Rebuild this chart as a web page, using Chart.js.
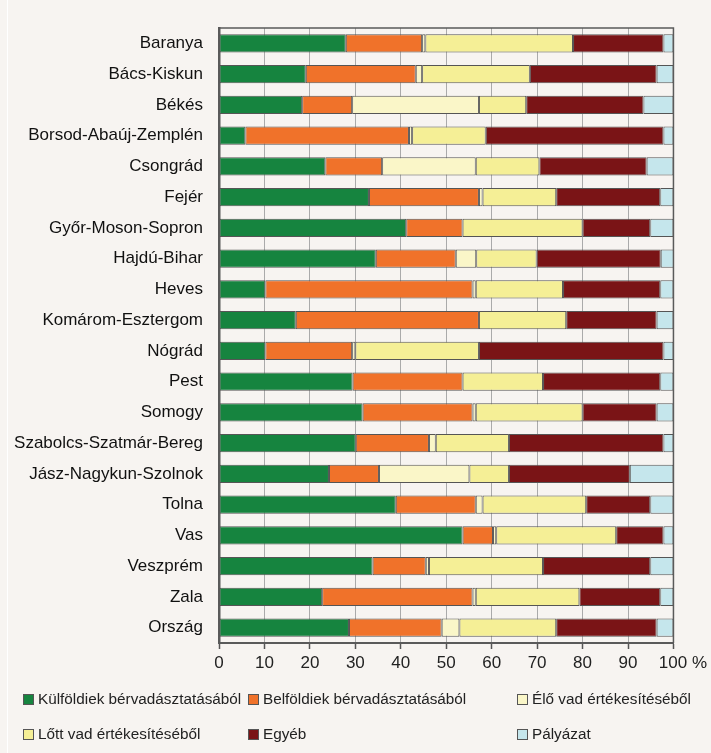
<!DOCTYPE html>
<html>
<head>
<meta charset="utf-8">
<script src="https://cdn.jsdelivr.net/npm/chart.js@4/dist/chart.umd.min.js"></script>
<style>
	html, body { margin: 0; padding: 0; background: #f7f4f1; }
	#wrap { position: relative; width: 711px; height: 753px; overflow: hidden; }
	#wrap:before { content: ""; position: absolute; left: 7px; top: 0; bottom: 0; border-left: 1px solid #fff; }
	#legend { position: absolute; left: 23px; top: 681px; display: grid; grid-template-columns: 225px 269px auto; grid-auto-rows: 35px; align-items: center;
		font-family: "Liberation Sans", Arial, sans-serif; font-size: 15.3px; color: #222; white-space: nowrap; }
	#legend span.box { display: inline-block; width: 9px; height: 9px; border: 1px solid #555; margin-right: 4px; vertical-align: -1px; }
</style>
</head>
<body>
<div id="wrap">
	<canvas id="chart" width="711" height="753"></canvas>
	<div id="legend"></div>
</div>
<script>
// data
var categories = ["Baranya", "Bács-Kiskun", "Békés", "Borsod-Abaúj-Zemplén", "Csongrád", "Fejér", "Győr-Moson-Sopron",
	"Hajdú-Bihar", "Heves", "Komárom-Esztergom", "Nógrád", "Pest", "Somogy", "Szabolcs-Szatmár-Bereg",
	"Jász-Nagykun-Szolnok", "Tolna", "Vas", "Veszprém", "Zala", "Ország"];
var seriesNames = ["Külföldiek bérvadásztatásából", "Belföldiek bérvadásztatásából", "Élő vad értékesítéséből",
	"Lőtt vad értékesítéséből", "Egyéb", "Pályázat"];
var kulfoldi = [27.9, 19.1, 18.3, 5.8, 23.4, 33.0, 41.2, 34.5, 10.2, 16.9, 10.2, 29.4, 31.6, 30.1, 24.2, 38.9, 53.6, 33.8, 22.7, 28.6];
var belfoldi = [16.8, 24.2, 11.0, 36.0, 12.5, 24.2, 12.4, 17.6, 45.6, 40.3, 19.1, 24.2, 24.2, 16.1, 11.0, 17.6, 6.7, 11.7, 33.1, 20.4];
var eloVad = [0.7, 1.4, 27.9, 0.7, 20.6, 0.8, 0, 4.5, 0.7, 0, 0.7, 0, 0.7, 1.5, 19.9, 1.5, 0.7, 0.7, 0.7, 3.9];
var lottVad = [32.5, 23.7, 10.4, 16.2, 14.0, 16.2, 26.4, 13.3, 19.2, 19.2, 27.2, 17.7, 23.5, 16.1, 8.7, 22.8, 26.4, 25.1, 22.8, 21.3];
var egyeb = [19.9, 27.9, 25.8, 39.1, 23.6, 22.9, 14.9, 27.3, 21.4, 19.9, 40.6, 25.8, 16.3, 34.0, 26.6, 14.1, 10.4, 23.6, 17.8, 22.1];
var palyazat = [2.2, 3.7, 6.6, 2.2, 5.9, 2.9, 5.1, 2.9, 2.9, 3.7, 2.2, 2.9, 3.7, 2.2, 9.6, 5.1, 2.2, 5.1, 2.9, 3.7];
var colors = ["#16843f", "#f0722a", "#faf6c8", "#f5ef96", "#7a1416", "#c5e6ec"];

var values = [kulfoldi, belfoldi, eloVad, lottVad, egyeb, palyazat];
var datasets = [];
for (var i = 0; i < values.length; i++) {
	datasets.push({
		label: seriesNames[i],
		data: values[i],
		backgroundColor: colors[i],
		borderColor: "#555",
		borderWidth: 1,
		borderSkipped: false,
		barPercentage: 0.6,
		categoryPercentage: 1
	});
}

var font = "'Liberation Sans', Arial, sans-serif";

// frame round the plot
var frame = {
	id: "frame",
	afterDatasetsDraw: function(chart) {
		var a = chart.chartArea, c = chart.ctx;
		c.save();
		c.strokeStyle = "#5a5a5a";
		c.lineWidth = 1.5;
		c.beginPath();
		c.moveTo(a.left, a.top);
		c.lineTo(a.right, a.top);
		c.lineTo(a.right, a.bottom);
		c.stroke();
		c.restore();
	}
};

var chart = new Chart(document.getElementById("chart"), {
	type: "bar",
	data: { labels: categories, datasets: datasets },
	plugins: [frame],
	options: {
		indexAxis: "y",
		responsive: false,
		animation: false,
		layout: { padding: { left: 0, top: 28, right: 36, bottom: 74 } },
		plugins: { legend: { display: false }, tooltip: { enabled: false } },
		scales: {
			x: {
				stacked: true,
				min: 0,
				max: 100,
				afterFit: function(s) { s.height = 36; },
				ticks: {
					stepSize: 10,
					padding: 4,
					maxRotation: 0,
					autoSkip: false,
					color: "#222",
					font: { family: font, size: 17 },
					callback: function(v) { return v === 100 ? "    100 %" : v; }
				},
				grid: { color: "#aaa", lineWidth: 1, tickColor: "#555", tickLength: 6, tickWidth: 1.5 },
				border: { color: "#5a5a5a", width: 2 }
			},
			y: {
				stacked: true,
				afterFit: function(s) { s.width = 219; },
				ticks: { padding: 16, color: "#111", font: { family: font, size: 17 } },
				grid: { color: "rgba(0,0,0,0)", drawTicks: false },
				border: { color: "#5a5a5a", width: 2.5 }
			}
		}
	}
});

// legend
var html = "";
chart.data.datasets.forEach(function(d) {
	html += '<div><span class="box" style="background:' + d.backgroundColor + '"></span>' + d.label + '</div>';
});
document.getElementById("legend").innerHTML = html;
</script>
</body>
</html>
